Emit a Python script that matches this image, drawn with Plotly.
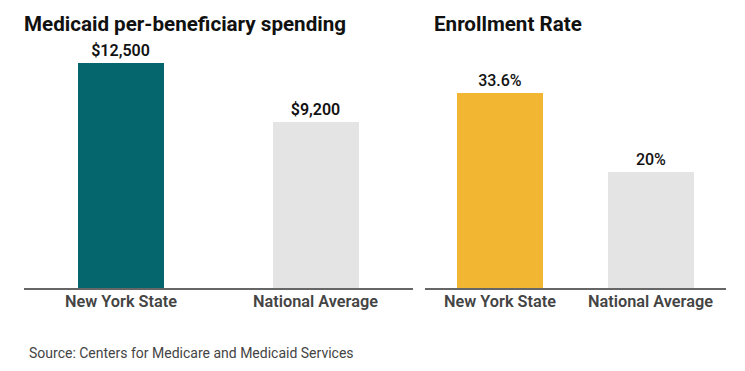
import plotly.graph_objects as go

categories = ["New York State", "National Average"]
spending = [12500, 9200]
spending_labels = ["$12,500", "$9,200"]
enrollment = [33.6, 20]
enrollment_labels = ["33.6%", "20%"]

OFF = 8  # default page body margin
W, H = 745 - OFF, 371 - OFF
FONT = "Roboto"


def px(x):
    return (x - OFF) / W


def py(y):
    return (H - (y - OFF)) / H


fig = go.Figure()
fig.add_trace(go.Bar(
    x=categories, y=spending, text=spending_labels, textposition="outside",
    marker=dict(color=["#06666e", "#e4e4e4"], line=dict(width=0)),
    width=0.44, xaxis="x", yaxis="y", cliponaxis=False,
    textfont=dict(family=FONT, size=16, color="#111", weight=600),
    hoverinfo="skip",
))
fig.add_trace(go.Bar(
    x=categories, y=enrollment, text=enrollment_labels, textposition="outside",
    marker=dict(color=["#f2b633", "#e4e4e4"], line=dict(width=0)),
    width=0.573, xaxis="x2", yaxis="y2", cliponaxis=False,
    textfont=dict(family=FONT, size=16, color="#111", weight=500),
    hoverinfo="skip",
))

ytop_px = 40
ybot_px = 288
plot_h = ybot_px - ytop_px
ydom = [py(ybot_px), py(ytop_px)]

axis_common = dict(
    showline=True, linecolor="#666", linewidth=1.5, ticks="",
    showticklabels=False,
    showgrid=False, zeroline=False, fixedrange=True,
)
yaxis_common = dict(visible=False, showgrid=False, zeroline=False, fixedrange=True)

cat_ann = []
for xr, yr in (("x", "y"), ("x2", "y2")):
    for c in categories:
        cat_ann.append(dict(
            text=c, xref=xr, yref=yr, x=c, y=0, xanchor="center", yanchor="top",
            yshift=-2, showarrow=False,
            font=dict(family=FONT, size=16.3, color="#444", weight=600),
        ))

fig.update_layout(
    width=W, height=H, margin=dict(l=0, r=0, t=0, b=0),
    paper_bgcolor="white", plot_bgcolor="white", showlegend=False,
    bargap=0,
    xaxis=dict(domain=[px(23.5), px(412.5)], anchor="y", **axis_common),
    xaxis2=dict(domain=[px(425), px(726)], anchor="y2", **axis_common),
    yaxis=dict(domain=ydom, range=[0, plot_h / (225 / 12500)], anchor="x", **yaxis_common),
    yaxis2=dict(domain=ydom, range=[0, plot_h / (195 / 33.6)], anchor="x2", **yaxis_common),
    annotations=[
        dict(text="<b>Medicaid per-beneficiary spending</b>", xref="paper", yref="paper",
             x=px(22), y=py(24), xanchor="left", yanchor="middle", showarrow=False,
             font=dict(family=FONT, size=20.6, color="#111")),
        dict(text="<b>Enrollment Rate</b>", xref="paper", yref="paper",
             x=px(432), y=py(24), xanchor="left", yanchor="middle", showarrow=False,
             font=dict(family=FONT, size=20.6, color="#111")),
        dict(text="Source: Centers for Medicare and Medicaid Services", xref="paper", yref="paper",
             x=px(27), y=py(353), xanchor="left", yanchor="middle", showarrow=False,
             font=dict(family=FONT, size=14, color="#444")),
    ] + cat_ann,
)

fig.write_html("out.html")
